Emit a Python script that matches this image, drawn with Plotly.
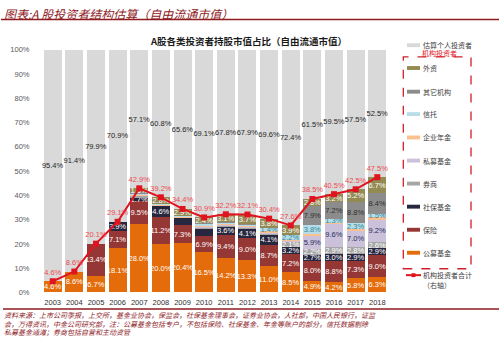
import plotly.graph_objects as go

# ---------------- data ----------------
years = [str(y) for y in range(2003, 2019)]
individual = [95.4, 91.4, 79.9, 70.9, 57.1, 60.8, 65.6, 69.1, 67.8, 67.9, 69.6, 72.4, 61.5, 59.5, 57.5, 52.5]
inst_total = [4.6, 8.6, 20.1, 29.1, 42.9, 39.2, 34.4, 30.9, 32.2, 32.1, 30.4, 27.6, 38.5, 40.5, 42.5, 47.5]

public_fund = [4.6, 8.6, 6.7, 18.1, 28.0, 20.0, 20.4, 16.5, 14.2, 13.3, 11.0, 8.5, 4.9, 4.2, 5.8, 6.3]
insurance = [0, 0, 13.4, 7.1, 9.5, 11.2, 7.3, 6.9, 9.4, 9.0, 8.7, 7.2, 8.0, 8.8, 7.3, 9.0]
social_security = [0, 0, 0, 3.9, 1.7, 4.6, 3.2, 3.0, 3.6, 4.1, 4.1, 3.2, 2.7, 3.0, 2.9, 2.9]
brokers = [0, 0, 0, 0, 0.8, 0.3, 0.2, 0.5, 0.5, 0.5, 0.6, 2.1, 2.2, 2.9, 2.8, 2.6]
private_fund = [0, 0, 0, 0, 0, 0, 0, 0.5, 0.4, 0.5, 0.4, 0.3, 5.9, 9.6, 7.0, 9.2]
annuity = [0, 0, 0, 0, 0.3, 0.2, 0.2, 0.4, 0.4, 0.4, 0.4, 0.2, 0.3, 0.3, 0.4, 0.9]
trust = [0, 0, 0, 0, 0.4, 0.1, 0.2, 0.5, 0.4, 0.4, 1.4, 2.2, 3.8, 1.3, 2.3, 1.5]
other_inst = [0, 0, 0, 0, 0.6, 0, 0, 0.2, 0.2, 0.2, 0, 0, 7.9, 7.2, 8.8, 8.4]
foreign = [0, 0, 0, 0, 1.6, 2.8, 2.9, 2.4, 3.1, 3.7, 3.8, 3.9, 2.8, 3.2, 5.2, 6.7]

# (name, values, bar colour, label colour) bottom -> top
series = [
    ("公募基金", public_fund, "#E46C0A", "white"),
    ("保险", insurance, "#953735", "white"),
    ("社保基金", social_security, "#27273F", "white"),
    ("券商", brokers, "#A6A6A6", "white"),
    ("私募基金", private_fund, "#CCC1DA", "#1F2F5F"),
    ("企业年金", annuity, "#FAC090", "#7F3F00"),
    ("信托", trust, "#B7DEE8", "#31859C"),
    ("其它机构", other_inst, "#8C8C8C", "#303030"),
    ("外资", foreign, "#948A54", "white"),
]
hidden_labels = {("社保基金", "2009"), ("社保基金", "2010")}

W, H = 500, 351
def px(x):
    return x / W
def py(y):
    return 1 - y / H

fig = go.Figure()

LABEL_FONT = "Liberation Sans, Arial, sans-serif"
CJK = "Noto Sans CJK SC, sans-serif"

for name, vals, col, tcol in series:
    texts = []
    for y, v in zip(years, vals):
        if v >= 1.3 and (name, y) not in hidden_labels:
            texts.append(f"{v:.1f}%")
        else:
            texts.append("")
    fig.add_trace(go.Bar(
        x=years, y=vals, name=name, marker=dict(color=col, line=dict(width=0)),
        text=texts, textposition="inside", insidetextanchor="middle", textangle=0,
        textfont=dict(size=7.5, color=tcol, family=LABEL_FONT),
        showlegend=False, hoverinfo="skip",
    ))

fig.add_trace(go.Bar(
    x=years, y=individual, name="估算个人投资者",
    marker=dict(color="#D9D9D9", line=dict(width=0)),
    text=[f"{v:.1f}%" for v in individual], textposition="inside",
    insidetextanchor="middle", textangle=0,
    textfont=dict(size=7.5, color="#262626", family=LABEL_FONT),
    showlegend=False, hoverinfo="skip",
))

fig.add_trace(go.Scatter(
    x=years, y=inst_total, name="机构投资者合计（右轴）",
    mode="lines+markers+text",
    line=dict(color="#E0141E", width=2),
    marker=dict(symbol="square", size=6, color="#E0141E"),
    text=[f"{v:.1f}%" for v in inst_total], textposition="top center",
    textfont=dict(size=7.5, color="#EE4A50", family=LABEL_FONT),
    showlegend=False, hoverinfo="skip", cliponaxis=False,
))

fig.update_layout(
    width=W, height=H, margin=dict(l=0, r=0, t=0, b=0),
    paper_bgcolor="white", plot_bgcolor="white",
    barmode="stack", bargap=0.17,
    uniformtext=dict(minsize=7.5, mode="show"),
    font=dict(family=LABEL_FONT, size=7.5, color="#404040"),
    xaxis=dict(domain=[px(30.5), px(399.5)], type="category", showgrid=False,
               showline=False, ticks="", tickfont=dict(size=7.5, color="#303030"),
               ticklabelstandoff=4, fixedrange=True),
    yaxis=dict(domain=[py(296), py(47)], range=[0, 100], dtick=10, ticksuffix="%",
               showgrid=False, zeroline=False, showline=False, ticks="",
               tickfont=dict(size=7.5, color="#595959"), fixedrange=True),
)

shapes = []
annotations = []

title_red = "#8E1B1F"
# header title and rule
annotations.append(dict(x=px(2), y=py(10), xref="paper", yref="paper", xanchor="left",
                        yanchor="middle", showarrow=False,
                        text="<i>图表:A 股投资者结构估算（自由流通市值）</i>",
                        font=dict(family=CJK, size=12, color=title_red)))
shapes.append(dict(type="line", xref="paper", yref="paper", x0=px(1), x1=px(499),
                   y0=py(16), y1=py(16), line=dict(color=title_red, width=1.5)))
# chart title
annotations.append(dict(x=px(248), y=py(37.5), xref="paper", yref="paper", xanchor="center",
                        yanchor="middle", showarrow=False,
                        text="<b>A股各类投资者持股市值占比（自由流通市值）</b>",
                        font=dict(family=CJK, size=9.5, color="#1A1A1A")))

# legend (manual)
leg_text = "#404040"
def swatch(y, color, h=4):
    shapes.append(dict(type="rect", xref="paper", yref="paper", x0=px(407), x1=px(420),
                       y0=py(y + h / 2), y1=py(y - h / 2), fillcolor=color,
                       line=dict(width=0)))
def leg_label(y, text, color=leg_text, x=421, anchor="left"):
    annotations.append(dict(x=px(x), y=py(y), xref="paper", yref="paper", xanchor=anchor,
                            yanchor="middle", showarrow=False, text=text,
                            font=dict(family=CJK, size=7, color=color)))

swatch(42.3, "#D9D9D9")
leg_label(42.0, "估算个人投资者")
leg_label(50, "机构投资者", color="#E0141E", x=439, anchor="center")
shapes.append(dict(type="rect", xref="paper", yref="paper", x0=px(403.3), x1=px(471),
                   y0=py(271.7), y1=py(54.3), line=dict(color="#D0202A", width=1.3, dash="dash")))
leg_y = [65.7, 90, 113, 137, 160.7, 184.3, 208, 231.7, 255.3]
for (name, vals, col, tcol), yy in zip(series[::-1], leg_y):
    swatch(yy, col)
    leg_label(yy, name)
# line legend
shapes.append(dict(type="line", xref="paper", yref="paper", x0=px(406), x1=px(421),
                   y0=py(278.3), y1=py(278.3), line=dict(color="#E0141E", width=2)))
shapes.append(dict(type="rect", xref="paper", yref="paper", x0=px(411.5), x1=px(415.5),
                   y0=py(280.3), y1=py(276.3), fillcolor="#E0141E", line=dict(width=0)))
leg_label(278.3, "机构投资者合计")
leg_label(288, "（右轴）")

# bottom rule and source
shapes.append(dict(type="line", xref="paper", yref="paper", x0=px(3), x1=px(499),
                   y0=py(313), y1=py(313), line=dict(color=title_red, width=1.5)))
src_lines = [
    "资料来源：上市公司季报，上交所，基金业协会，保监会，社保基金理事会，证券业协会，人社部，中国人民银行，证监",
    "会，万得资讯，中金公司研究部，注：公募基金包括专户，不包括保险、社保基金、年金等账户的部分，信托数据剔除",
    "私募基金通道；券商包括自营和主动资管",
]
for line, yy in zip(src_lines, [319.5, 328, 336.5]):
    annotations.append(dict(x=px(2), y=py(yy), xref="paper", yref="paper", xanchor="left",
                            yanchor="middle", showarrow=False, text=f"<i>{line}</i>",
                            font=dict(family=CJK, size=7, color=title_red)))

fig.update_layout(shapes=shapes, annotations=annotations)
fig.write_html("out.html")
